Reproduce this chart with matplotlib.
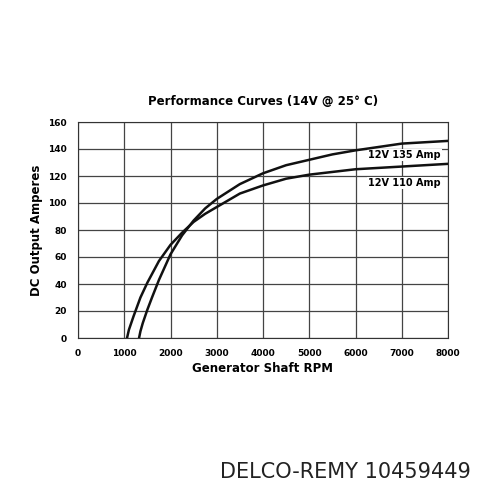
import matplotlib
matplotlib.use("Agg")
import matplotlib.pyplot as plt

rpm_110 = [1060, 1100, 1200, 1350, 1500, 1750, 2000, 2250, 2500, 2750, 3000, 3500, 4000, 4500, 5000, 5500, 6000, 7000, 8000]
amps_110 = [0, 6, 16, 30, 41, 57, 69, 78, 86, 92, 97, 107, 113, 118, 121, 123, 125, 127, 129]
rpm_135 = [1320, 1350, 1400, 1500, 1600, 1750, 2000, 2250, 2500, 2750, 3000, 3500, 4000, 4500, 5000, 5500, 6000, 7000, 8000]
amps_135 = [0, 5, 11, 21, 30, 43, 62, 76, 87, 96, 103, 114, 122, 128, 132, 136, 139, 144, 146]
xticks = [0, 1000, 2000, 3000, 4000, 5000, 6000, 7000, 8000]
yticks = [0, 20, 40, 60, 80, 100, 120, 140, 160]

fig = plt.figure(figsize=(5, 5), dpi=100)
ax = fig.add_axes([0.156, 0.324, 0.740, 0.432])
ax.plot(rpm_110, amps_110, color="#111111", lw=1.8, zorder=4)
ax.plot(rpm_135, amps_135, color="#111111", lw=1.8, zorder=4)
ax.set_xlim(0, 8000)
ax.set_ylim(0, 160)
ax.set_xticks(xticks)
ax.set_yticks(yticks)
ax.set_xticklabels([str(v) for v in xticks], fontsize=6.5, fontweight="bold")
ax.set_yticklabels([str(v) for v in yticks], fontsize=6.5, fontweight="bold")
ax.tick_params(length=0, pad=8)
ax.grid(True, color="#444444", lw=0.9)
for s in ax.spines.values():
    s.set_color("#333333")
bb = dict(facecolor="white", edgecolor="none", pad=0.8)
ax.text(7850, 135.5, "12V 135 Amp", ha="right", va="center", fontsize=7, fontweight="bold", bbox=bb, zorder=3)
ax.text(7850, 115, "12V 110 Amp", ha="right", va="center", fontsize=7, fontweight="bold", bbox=bb, zorder=3)
ax.set_title("Performance Curves (14V @ 25\u00b0 C)", fontsize=8.5, fontweight="bold", pad=12)
ax.set_xlabel("Generator Shaft RPM", fontsize=8.5, fontweight="bold", labelpad=3)
ax.set_ylabel("DC Output Amperes", fontsize=8.5, fontweight="bold", labelpad=4)
fig.text(0.69, 0.055, "DELCO-REMY 10459449", ha="center", va="center", fontsize=15, color="#222222")
fig.savefig("out.png", dpi=100, facecolor="white")
